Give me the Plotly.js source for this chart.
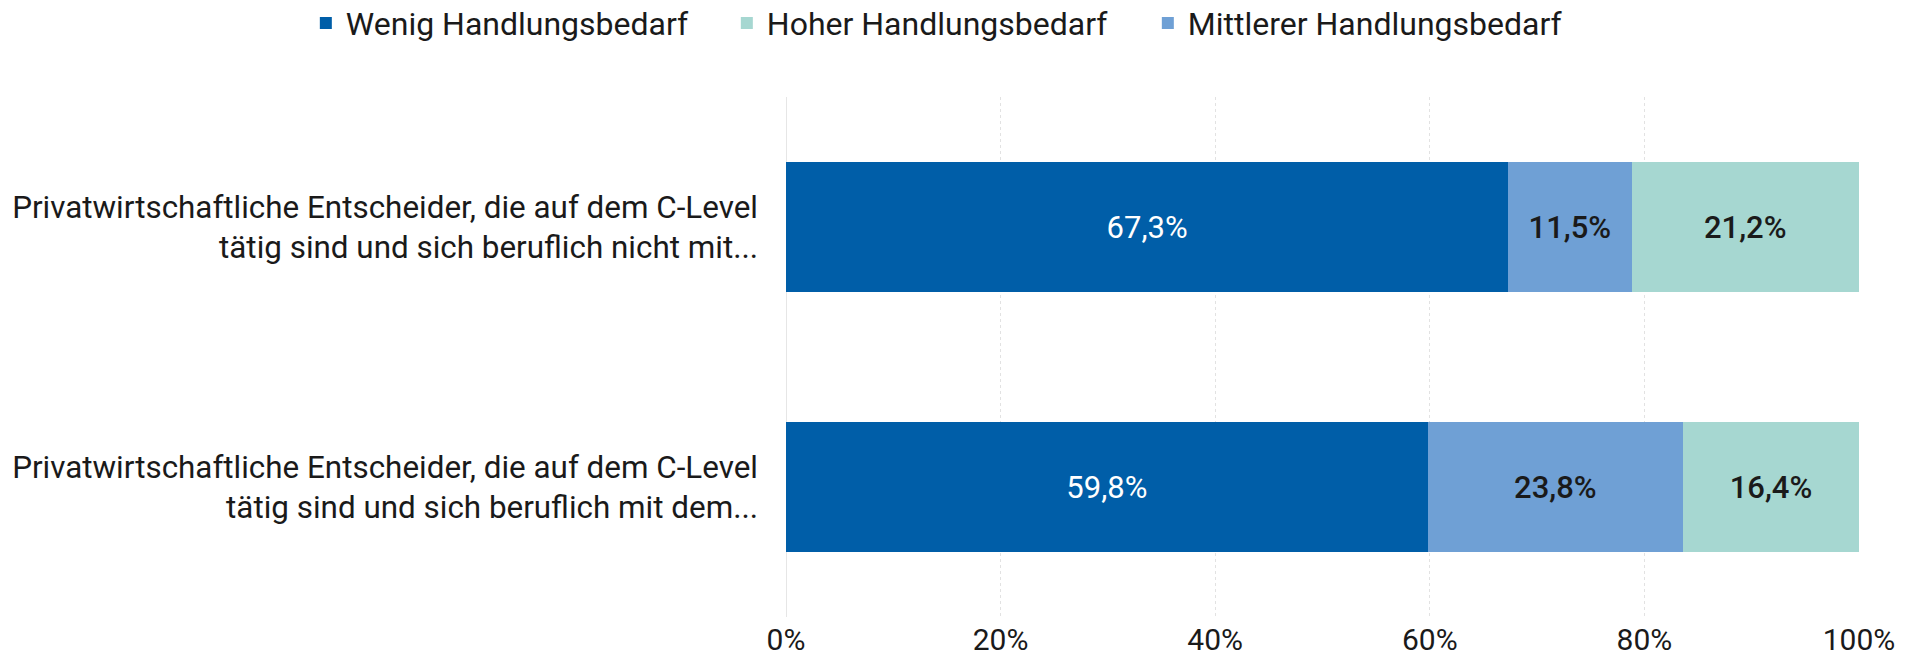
<!DOCTYPE html>
<html>
<head>
<meta charset="utf-8">
<script src="https://cdn.plot.ly/plotly-3.0.1.min.js"></script>
<style>html,body{margin:0;padding:0;background:#fff;}#chart{width:1910px;height:658px;}</style>
</head>
<body>
<div id="chart"></div>
<script>
const categories = [
  "Privatwirtschaftliche Entscheider, die auf dem C-Level<br>tätig sind und sich beruflich nicht mit...",
  "Privatwirtschaftliche Entscheider, die auf dem C-Level<br>tätig sind und sich beruflich mit dem..."
];
const wenig = [67.3, 59.8];
const mittlerer = [11.5, 23.8];
const hoher = [21.2, 16.4];
const tickValues = [0, 20, 40, 60, 80, 100];
const tickLabels = ["0%", "20%", "40%", "60%", "80%", "100%"];

const font = "Roboto, 'Noto Sans', sans-serif";

function trace(name, vals, color, txtColor, weight, rank) {
  return {
    type: 'bar', orientation: 'h', name: name,
    x: vals, y: categories,
    marker: {color: color},
    text: vals, texttemplate: '%{x:.1f}%',
    textposition: 'inside', insidetextanchor: 'middle',
    textfont: {family: font, size: 31, color: txtColor, weight: weight},
    legendrank: rank, hoverinfo: 'skip'
  };
}

const data = [
  trace('Wenig Handlungsbedarf', wenig, '#005EA8', '#ffffff', 400, 1),
  trace('Mittlerer Handlungsbedarf', mittlerer, '#6FA0D5', '#1a1a1a', 500, 3),
  trace('Hoher Handlungsbedarf', hoher, '#A6D7D1', '#1a1a1a', 500, 2)
];

const layout = {
  width: 1910, height: 658,
  barmode: 'stack', bargap: 0.5,
  separators: ',.',
  font: {family: font, size: 30, color: '#1a1a1a'},
  margin: {l: 786, r: 51, t: 97, b: 41, autoexpand: false},
  paper_bgcolor: '#fff', plot_bgcolor: '#fff',
  showlegend: true,
  legend: {
    orientation: 'h', xref: 'paper', yref: 'paper',
    x: -0.4475, y: 1.142, xanchor: 'left', yanchor: 'middle',
    font: {family: font, size: 32, color: '#1a1a1a'},
    entrywidth: 376, entrywidthmode: 'pixels',
    traceorder: 'normal'
  },
  xaxis: {
    range: [0, 100], tickmode: 'array', tickvals: tickValues, ticktext: tickLabels,
    showgrid: true, gridcolor: '#e2e2e2', griddash: 'dot', gridwidth: 1,
    zeroline: true, zerolinecolor: '#e6e6e6', zerolinewidth: 1,
    showline: false, ticks: '', ticklabelstandoff: 2,
    tickfont: {family: font, size: 30, color: '#1a1a1a'},
    fixedrange: true
  },
  yaxis: {
    type: 'category', autorange: 'reversed',
    showgrid: false, zeroline: false, showline: false, ticks: '',
    ticklabelstandoff: 27,
    tickfont: {family: font, size: 31.4, color: '#1a1a1a'},
    fixedrange: true
  }
};

Plotly.newPlot('chart', data, layout, {displayModeBar: false, staticPlot: true});
</script>
</body>
</html>
